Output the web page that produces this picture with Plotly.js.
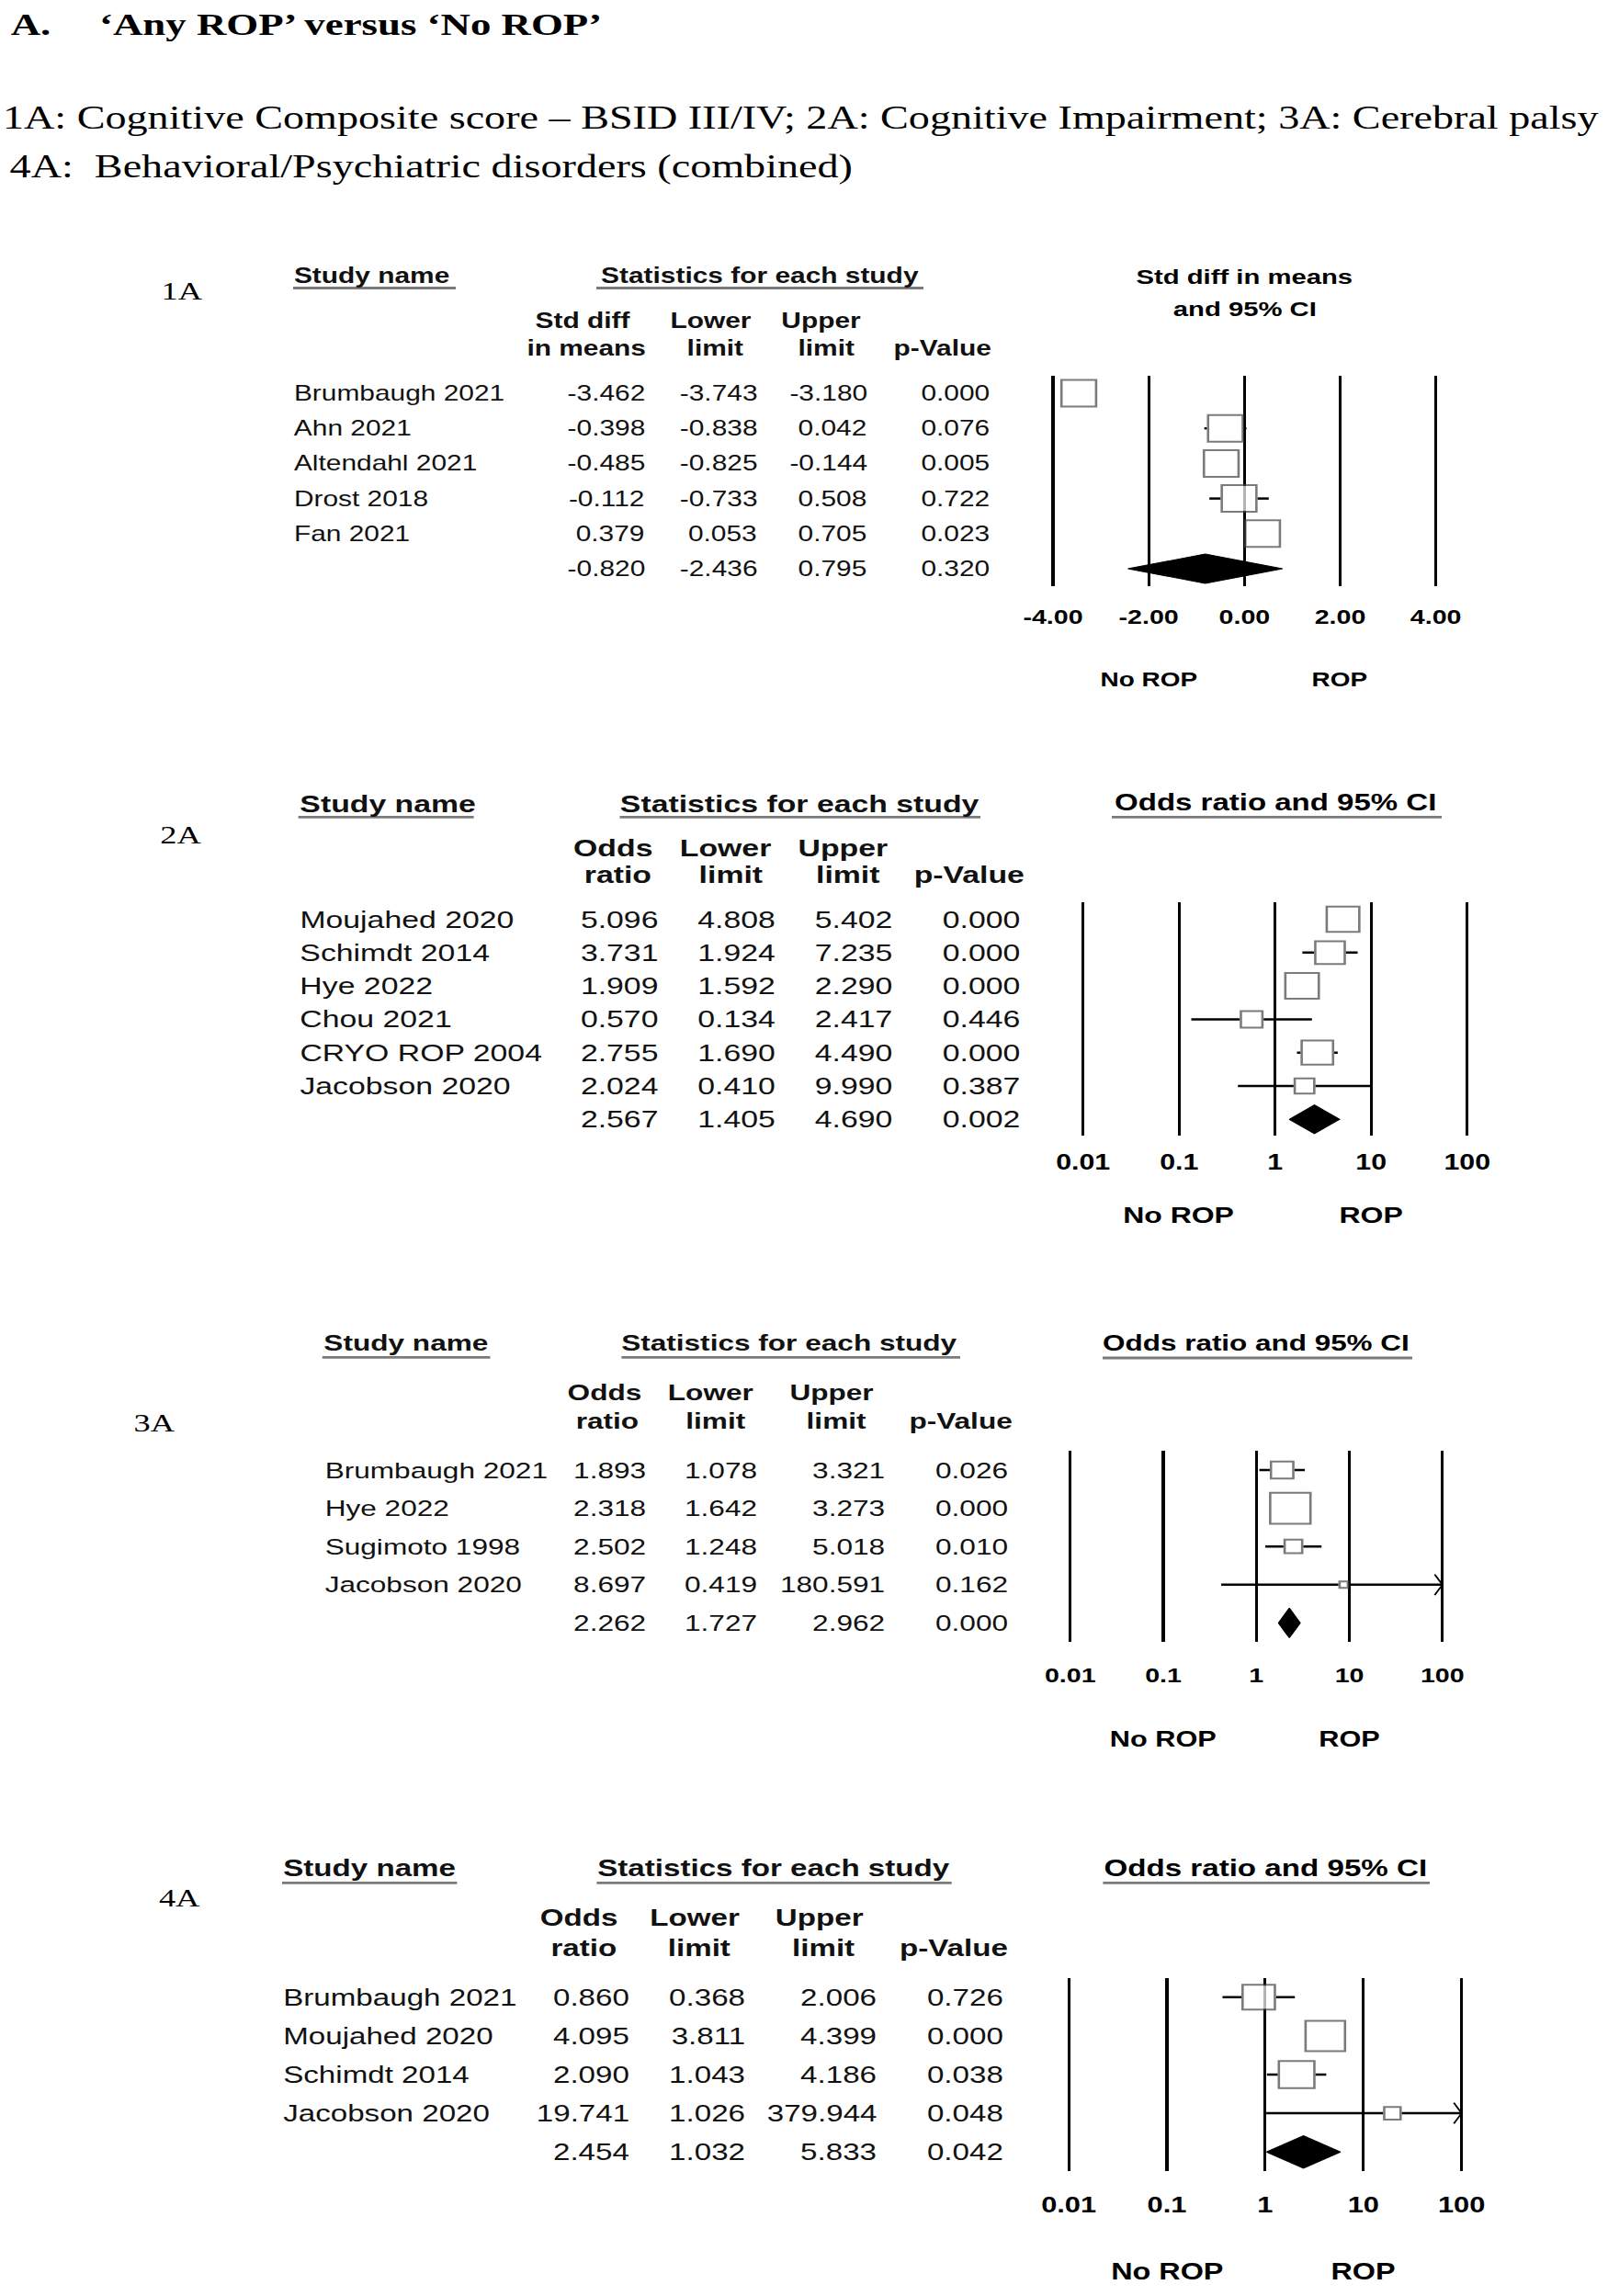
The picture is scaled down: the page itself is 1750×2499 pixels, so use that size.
<!DOCTYPE html>
<html><head><meta charset="utf-8">
<script src="https://cdn.plot.ly/plotly-3.0.1.min.js"></script>
<style>
html,body{margin:0;padding:0;background:#fff;overflow:hidden;}
#chart{width:1346px;height:2499px;transform:scaleX(1.30015);transform-origin:0 0;}
</style></head><body><div id="chart"></div>
<script>
// ---------------- DATA ----------------
const headingTitleLetter = 'A.';
const headingTitle = '\u2018Any ROP\u2019 versus \u2018No ROP\u2019';
const headingLine2 = '1A: Cognitive Composite score \u2013 BSID III/IV; 2A: Cognitive Impairment; 3A: Cerebral palsy';
const headingLine3 = '4A:\u00a0 Behavioral/Psychiatric disorders (combined)';

const smdColHeads = [['Std diff','in means'],['Lower','limit'],['Upper','limit'],['','p-Value']];
const orColHeads  = [['Odds','ratio'],['Lower','limit'],['Upper','limit'],['','p-Value']];
const smdTickVals = [-4,-2,0,2,4];
const smdTickText = ['-4.00','-2.00','0.00','2.00','4.00'];
const orTickVals  = [0.01,0.1,1,10,100];
const orTickText  = ['0.01','0.1','1','10','100'];

// 1A: Cognitive Composite score
const studies1A = ['Brumbaugh 2021','Ahn 2021','Altendahl 2021','Drost 2018','Fan 2021'];
const smd1A     = [-3.462,-0.398,-0.485,-0.112,0.379];
const lower1A   = [-3.743,-0.838,-0.825,-0.733,0.053];
const upper1A   = [-3.180,0.042,-0.144,0.508,0.705];
const p1A       = [0.000,0.076,0.005,0.722,0.023];
const pooled1A  = [-0.820,-2.436,0.795,0.320];   // estimate, lower, upper, p
const weights1A = [20,20,20,20,20];

// 2A: Cognitive impairment
const studies2A = ['Moujahed 2020','Schimdt 2014','Hye 2022','Chou 2021','CRYO ROP 2004','Jacobson 2020'];
const or2A      = [5.096,3.731,1.909,0.570,2.755,2.024];
const lower2A   = [4.808,1.924,1.592,0.134,1.690,0.410];
const upper2A   = [5.402,7.235,2.290,2.417,4.490,9.990];
const p2A       = [0.000,0.000,0.000,0.446,0.000,0.387];
const pooled2A  = [2.567,1.405,4.690,0.002];
const weights2A = [21.4,17.8,22.5,10.0,20.0,8.4];

// 3A: Cerebral palsy
const studies3A = ['Brumbaugh 2021','Hye 2022','Sugimoto 1998','Jacobson 2020'];
const or3A      = [1.893,2.318,2.502,8.697];
const lower3A   = [1.078,1.642,1.248,0.419];
const upper3A   = [3.321,3.273,5.018,180.591];
const p3A       = [0.026,0.000,0.010,0.162];
const pooled3A  = [2.262,1.727,2.962,0.000];
const weights3A = [20.8,61.8,13.5,3.9];

// 4A: Behavioral/Psychiatric disorders
const studies4A = ['Brumbaugh 2021','Moujahed 2020','Schimdt 2014','Jacobson 2020'];
const or4A      = [0.860,4.095,2.090,19.741];
const lower4A   = [0.368,3.811,1.043,1.026];
const upper4A   = [2.006,4.399,4.186,379.944];
const p4A       = [0.726,0.000,0.038,0.048];
const pooled4A  = [2.454,1.032,5.833,0.042];
const weights4A = [25.4,36.9,30.3,7.4];

const ropLabels = ['No ROP','ROP'];

// ---------------- LAYOUT / STYLE ----------------
const REF_W = 1750, REF_H = 2499, DIV_W = 1346;
const SANS = 'Arial, "Liberation Sans", Helvetica, sans-serif';
const SERIF = '"Times New Roman", "Liberation Serif", Times, serif';
const px = x => x / REF_W;
const py = y => 1 - y / REF_H;

const panels = [
  {id:'1A', names:studies1A, est:smd1A, lo:lower1A, hi:upper1A, p:p1A, pooled:pooled1A, w:weights1A,
   log:false, tickVals:smdTickVals, tickText:smdTickText, colHeads:smdColHeads,
   rightHead:['Std diff in means','and 95% CI'], rightHeadY:[301.7,336.7],
   ropAt:[-2,2], centerAt:0,
   xDom:[1130.4,1578.3], xRange:[-4.3,4.3], yTop:408.9, rowSp:38.2,
   label:[198,316.7], studyHead:[318,300], statsHead:[827.5,300],
   underlines:[[319,496,313.5],[649,1005,313.5]],
   headX:[[634.2,637.8],[773.3,778.8],[894.5,899.1],[null,1026.1]], headY:[349,379],
   nameX:319, numX:[704,826,945,1079], ropY:740,
   fs:23, fsTick:22, fsRop:21.5, fsHead:22.5, standoff:18, maxBox:31, dHalf:0.42},
  {id:'2A', names:studies2A, est:or2A, lo:lower2A, hi:upper2A, p:p2A, pooled:pooled2A, w:weights2A,
   log:true, tickVals:orTickVals, tickText:orTickText, colHeads:orColHeads,
   rightHead:['Odds ratio and 95% CI'], rightHeadY:[873.3],
   ropAt:[0.1,10], centerAt:1,
   xDom:[1163,1612.4], xRange:[-2.15,2.15], yTop:982.35, rowSp:36.3,
   label:[197,908.5], studyHead:[324.6,875], statsHead:[869.8,875],
   underlines:[[324.6,515.6,889.3],[674.5,1067,889.3],[1210,1569,889.3]],
   headX:[[667,672.3],[790,795.4],[917.9,922.6],[null,1054.8]], headY:[922.7,951.7],
   nameX:324.6, numX:[718,845,972,1111], ropY:1322.7,
   fs:26, fsTick:23.3, fsRop:24.6, fsHead:25.4, standoff:12, maxBox:30, dHalf:0.43},
  {id:'3A', names:studies3A, est:or3A, lo:lower3A, hi:upper3A, p:p3A, pooled:pooled3A, w:weights3A,
   log:true, tickVals:orTickVals, tickText:orTickText, colHeads:orColHeads,
   rightHead:['Odds ratio and 95% CI'], rightHeadY:[1461.7],
   ropAt:[0.1,10], centerAt:1,
   xDom:[1149.6,1585.0], xRange:[-2.15,2.15], yTop:1579.2, rowSp:41.6,
   label:[168,1548], studyHead:[350.8,1461.7], statsHead:[859.1,1461.7],
   underlines:[[350.8,533.5,1477.3],[676.4,1045,1477.3],[1200,1537,1478]],
   headX:[[657.8,661.7],[773.8,779],[905.3,909.7],[null,1045.3]], headY:[1515,1546.7],
   nameX:352, numX:[705,826,965,1099], ropY:1893.3,
   fs:24.3, fsTick:22, fsRop:23.6, fsHead:24.2, standoff:21, maxBox:35.7, dHalf:0.39},
  {id:'4A', names:studies4A, est:or4A, lo:lower4A, hi:upper4A, p:p4A, pooled:pooled4A, w:weights4A,
   log:true, tickVals:orTickVals, tickText:orTickText, colHeads:orColHeads,
   rightHead:['Odds ratio and 95% CI'], rightHeadY:[2033.3],
   ropAt:[0.1,10], centerAt:1,
   xDom:[1147.1,1606.7], xRange:[-2.15,2.15], yTop:2152.75, rowSp:42.1,
   label:[196,2065], studyHead:[307,2033.3], statsHead:[841.9,2033.3],
   underlines:[[307,497.4,2049.3],[649.4,1035.7,2049.3],[1200.4,1556,2049.3]],
   headX:[[629.9,635.2],[756.2,760.9],[892.1,896.5],[null,1038.2]], headY:[2087.3,2120],
   nameX:307, numX:[686,813,955,1094], ropY:2471.7,
   fs:25.5, fsTick:23.7, fsRop:24.9, fsHead:25.5, standoff:20, maxBox:35, dHalf:0.42}
];

const traces = [];
const annotations = [];
const shapes = [];
const layout = {
  width:DIV_W, height:REF_H, margin:{l:0,r:0,t:0,b:0}, paper_bgcolor:'#fff', plot_bgcolor:'rgba(0,0,0,0)',
  showlegend:false, annotations, shapes
};

function note(text, x, y, opts){
  annotations.push(Object.assign({text, x, y, xref:'paper', yref:'paper', showarrow:false,
    xanchor:'center', yanchor:'middle', borderpad:0}, opts));
}

// headings
note(headingTitleLetter, px(11), py(26), {xanchor:'left', font:{family:SERIF, size:34.5, color:'#000', weight:'bold'}});
note(headingTitle, px(107), py(26), {xanchor:'left', font:{family:SERIF, size:34.5, color:'#000', weight:'bold'}});
note(headingLine2, px(1), py(128), {xanchor:'left', font:{family:SERIF, size:35.5, color:'#000'}});
note(headingLine3, px(9), py(181), {xanchor:'left', font:{family:SERIF, size:35.5, color:'#000'}});

const suffix = ['', '2', '3', '4'];
panels.forEach((P, k) => {
  const s = suffix[k];
  const xa = 'x' + s, ya = 'y' + s;
  const n = P.names.length, rows = n + 1;
  const yBottom = P.yTop + rows * P.rowSp;
  layout['xaxis' + s] = {
    domain:[px(P.xDom[0]), px(P.xDom[1])], type:P.log ? 'log' : 'linear', range:P.xRange, anchor:ya,
    tickmode:'array', tickvals:P.tickVals, ticktext:P.tickText,
    showgrid:true, gridcolor:'#000', gridwidth:2.4, zeroline:false, showline:false, ticks:'',
    ticklabelstandoff:P.standoff, tickfont:{family:SANS, size:P.fsTick, color:'#000', weight:'bold'},
    fixedrange:true
  };
  layout['yaxis' + s] = {domain:[py(yBottom), py(P.yTop)], range:[rows - 0.5, -0.5], visible:false,
    anchor:xa, fixedrange:true};

  const clipMax = P.tickVals[P.tickVals.length - 1];
  const wMax = Math.max(...P.w);
  const boxSize = P.w.map(w => P.maxBox * Math.sqrt(w / wMax) - 2);

  // axis scale: data units (or log10 units) per div pixel
  const plotPx = (P.xDom[1] - P.xDom[0]) / REF_W * DIV_W;
  const unitPerPx = (P.xRange[1] - P.xRange[0]) / plotPx;
  const shift = (v, dpx) => P.log ? v * Math.pow(10, dpx * unitPerPx) : v + dpx * unitPerPx;

  // CI whiskers: the parts outside each box (box sits on top anyway)
  const wx = [], wy = [];
  P.names.forEach((_, i) => {
    const half = boxSize[i] / 2 + 1;
    const hiShown = Math.min(P.hi[i], clipMax);
    const leftEdge = shift(P.est[i], -half), rightEdge = shift(P.est[i], half);
    if (P.lo[i] < leftEdge) { wx.push(P.lo[i], leftEdge, null); wy.push(i, i, null); }
    if (hiShown > rightEdge) { wx.push(rightEdge, hiShown, null); wy.push(i, i, null); }
  });
  traces.push({type:'scatter', mode:'lines', xaxis:xa, yaxis:ya, x:wx, y:wy, zorder:0,
    line:{color:'#000', width:2.5}, connectgaps:false, hoverinfo:'skip'});

  // study boxes
  traces.push({type:'scatter', mode:'markers', xaxis:xa, yaxis:ya, x:P.est, y:P.names.map((_, i) => i),
    zorder:1, marker:{symbol:'square', size:boxSize, color:'#fff', line:{color:'#444', width:2}},
    hoverinfo:'skip'});

  // pooled diamond
  const [pe, pl, pu] = P.pooled;
  traces.push({type:'scatter', mode:'lines', xaxis:xa, yaxis:ya, zorder:1,
    x:[pl, pe, pu, pe, pl], y:[n, n - P.dHalf, n, n + P.dHalf, n],
    fill:'toself', fillcolor:'#000', line:{color:'#000', width:1}, hoverinfo:'skip'});

  // arrowheads for CIs beyond the axis
  const axX = [], axY = [];
  P.hi.forEach((h, i) => {
    if (h > clipMax) {
      const back = shift(clipMax, -6.5);
      axX.push(back, clipMax, back, null);
      axY.push(i - 0.27, i, i + 0.27, null);
    }
  });
  if (axX.length) traces.push({type:'scatter', mode:'lines', xaxis:xa, yaxis:ya, x:axX, y:axY, zorder:1,
    line:{color:'#000', width:1.5}, hoverinfo:'skip', connectgaps:false});

  // table
  const tf = {family:SANS, size:P.fs, color:'#111'};
  const hf = {family:SANS, size:P.fs, color:'#111', weight:'bold'};
  note(P.id, px(P.label[0]), py(P.label[1]), {font:{family:SERIF, size:28, color:'#000'}});
  note('Study name', px(P.studyHead[0]), py(P.studyHead[1]), {xanchor:'left', font:hf});
  note('Statistics for each study', px(P.statsHead[0]), py(P.statsHead[1]), {font:hf});
  P.underlines.forEach(u => shapes.push({type:'line', xref:'paper', yref:'paper',
    x0:px(u[0]), x1:px(u[1]), y0:py(u[2]), y1:py(u[2]), line:{color:'#7a7a7a', width:2.8}}));
  P.colHeads.forEach((pair, c) => {
    pair.forEach((t, line) => {
      if (t) note(t, px(P.headX[c][line]), py(P.headY[line]), {font:hf});
    });
  });
  P.names.forEach((name, i) => {
    note(name, px(P.nameX), i, {xanchor:'left', yref:ya, font:tf});
    [P.est[i], P.lo[i], P.hi[i], P.p[i]].forEach((v, c) => {
      note(v.toFixed(3), px(P.numX[c]), i, {xanchor:'right', yref:ya, font:tf});
    });
  });
  P.pooled.forEach((v, c) => {
    note(v.toFixed(3), px(P.numX[c]), n, {xanchor:'right', yref:ya, font:tf});
  });

  // forest plot headings and direction labels
  const cx = P.log ? Math.log10(P.centerAt) : P.centerAt;
  P.rightHead.forEach((t, j) => {
    note(t, cx, py(P.rightHeadY[j]), {xref:xa,
      font:{family:SANS, size:P.fsHead, color:'#000', weight:'bold'}});
  });
  ropLabels.forEach((t, j) => {
    const xv = P.log ? Math.log10(P.ropAt[j]) : P.ropAt[j];
    note(t, xv, py(P.ropY), {xref:xa, font:{family:SANS, size:P.fsRop, color:'#000', weight:'bold'}});
  });
});

Plotly.newPlot('chart', traces, layout, {staticPlot:true, displayModeBar:false});
</script></body></html>
